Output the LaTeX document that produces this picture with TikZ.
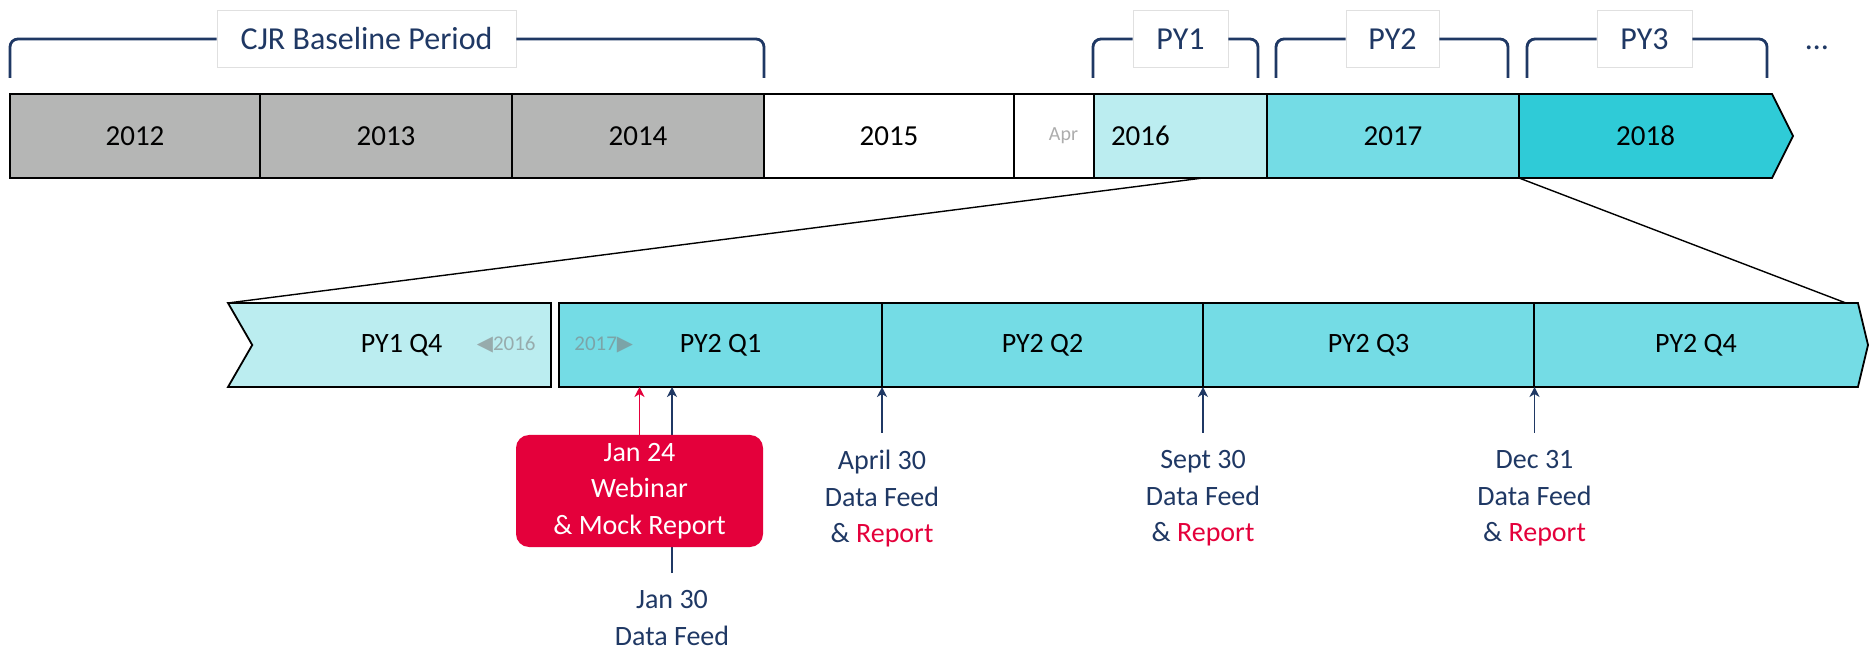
\documentclass[tikz,border=0pt]{standalone}
\usepackage{fontspec}
\setmainfont{Carlito}
\newfontfamily\symfont{DejaVu Sans}
\usetikzlibrary{calc,positioning,arrows.meta,shapes.symbols}
\definecolor{navy}{HTML}{1F3864}
\definecolor{alert}{HTML}{E4003B}
\definecolor{basegray}{RGB}{181,182,181}
\definecolor{pyone}{RGB}{187,237,240}
\definecolor{pytwo}{RGB}{116,220,229}
\definecolor{pythree}{RGB}{47,203,215}

\begin{document}
\begin{tikzpicture}[
  x=0.5pt,y=-0.5pt,
  >={Stealth[length=5pt,width=5pt,inset=1.5pt]},
  every node/.style={font=\fontsize{14}{18.25}\selectfont},
  span/.style={minimum width=#1*0.5pt},
  yearbox/.style={draw=black,line width=0.9pt,minimum height=42pt,inner sep=0pt,outer sep=0pt,font=\fontsize{14.5}{17}\selectfont},
  quarterbox/.style={draw=black,line width=0.9pt,minimum height=42pt,inner sep=0pt,outer sep=0pt,fill=pytwo},
  tag/.style={draw=black!12,fill=white,line width=0.4pt,minimum height=28.5pt,inner sep=0pt,text=navy,font=\fontsize{16}{19}\selectfont},
  bracket/.style={draw=navy,line width=1.4pt,rounded corners=4pt},
  faint/.style={text=black!50,text opacity=0.6,inner sep=0pt,font=\fontsize{10.5}{12}\selectfont},
  zoomline/.style={draw=black,line width=0.7pt},
  deadline/.style={->,draw=navy,line width=0.8pt},
  note/.style={text=navy,align=center,inner xsep=0pt,inner ysep=8.5pt,anchor=north,execute at begin node=\strut},
]
\useasboundingbox[fill=white] (0,0) rectangle (1871,651);

% years
\node[yearbox,fill=basegray,span=250] (y2012) at (135,136) {2012};
\node[yearbox,fill=basegray,span=252,right=0pt of y2012] (y2013) {2013};
\node[yearbox,fill=basegray,span=252,right=0pt of y2013] (y2014) {2014};
\node[yearbox,fill=white,span=250,right=0pt of y2014] (y2015) {2015};
\node[yearbox,fill=white,span=80,text width=24pt,align=right,inner xsep=8pt,
  font=\fontsize{10}{12}\selectfont,text=black!32,right=0pt of y2015] (apr) {Apr};
\node[yearbox,fill=pyone,span=173,text width=69.5pt,align=left,inner xsep=8.5pt,right=0pt of apr] (y2016) {2016};
\node[yearbox,fill=pytwo,span=252,right=0pt of y2016] (y2017) {2017};
\node[yearbox,fill=pythree,signal,signal from=nowhere,signal to=east,signal pointer angle=127,span=274,right=0pt of y2017] (y2018) {2018};

% period brackets
\node[tag,span=299] (baselbl) at (366.5,39) {CJR Baseline Period};
\node[tag,span=95] (pyonelbl) at (1180.5,39) {PY1};
\node[tag,span=93] (pytwolbl) at (1392.5,39) {PY2};
\node[tag,span=95] (pythreelbl) at (1644.5,39) {PY3};
\node[text=navy,font=\fontsize{16}{19}\selectfont,anchor=base] (more) at (1817,50) {\dots};

\draw[bracket] (baselbl.west) -| ($(y2012.north west)+(0,-16)$);
\draw[bracket] (baselbl.east) -| ($(y2014.north east)+(0,-16)$);
\draw[bracket] (pyonelbl.west) -| ($(y2016.north west)+(-1,-16)$);
\draw[bracket] (pyonelbl.east) -| ($(y2016.north east)+(-9,-16)$);
\draw[bracket] (pytwolbl.west) -| ($(y2017.north west)+(9,-16)$);
\draw[bracket] (pytwolbl.east) -| ($(y2017.north east)+(-11,-16)$);
\draw[bracket] (pythreelbl.west) -| ($(y2018.north west)+(8,-16)$);
\draw[bracket] (pythreelbl.east) -| ($(y2018.north west)+(248,-16)$);

% quarters
\node[quarterbox,span=323] (py2q1) at (720.5,345) {PY2 Q1};
\node[quarterbox,fill=pyone,signal,signal to=nowhere,signal from=west,signal pointer angle=120,span=323,left=4pt of py2q1] (py1q4) {PY1 Q4};
\node[quarterbox,span=321,right=0pt of py2q1] (py2q2) {PY2 Q2};
\node[quarterbox,span=331,right=0pt of py2q2] (py2q3) {PY2 Q3};
\node[quarterbox,signal,signal from=nowhere,signal to=east,signal pointer angle=153,span=334,right=0pt of py2q3] (py2q4) {PY2 Q4};

\node[faint,anchor=east] (prevyear) at ($(py1q4.east)+(-15,0)$) {{\symfont\char"25C0}2016};
\node[faint,anchor=west] (nextyear) at ($(py2q1.west)+(15,0)$) {2017{\symfont\char"25B6}};

\draw[zoomline] ($(y2016.south west)!0.63!(y2016.south east)$) -- (py1q4.north west);
\draw[zoomline] (y2017.south east) -- ($(py2q4.north east)+(-12,0)$);

% deadlines
\node[note] (jan30) at (672,573) {Jan 30\\Data Feed};
\draw[deadline] (jan30.north) -- (jan30.north |- py2q1.south);
\node[fill=alert,text=white,rounded corners=6.5pt,span=247,minimum height=56pt,align=center,inner sep=0pt] (webinar) at (639.5,491)
  {Jan 24\\Webinar\\{\&} Mock Report};
\draw[deadline,draw=alert] (webinar.north) -- (webinar.north |- py2q1.south);

\node[note] (apr30) at (882,433) {April 30\\Data Feed\\{\&} {\color{alert}Report}};
\node[note] (sep30) at (1203,433) {Sept 30\\Data Feed\\{\&} {\color{alert}Report}};
\node[note] (dec31) at (1534.5,433) {Dec 31\\Data Feed\\{\&} {\color{alert}Report}};
\draw[deadline] (apr30.north) -- (apr30.north |- py2q2.south);
\draw[deadline] (sep30.north) -- (sep30.north |- py2q3.south);
\draw[deadline] (dec31.north) -- (dec31.north |- py2q4.south);
\end{tikzpicture}
\end{document}
